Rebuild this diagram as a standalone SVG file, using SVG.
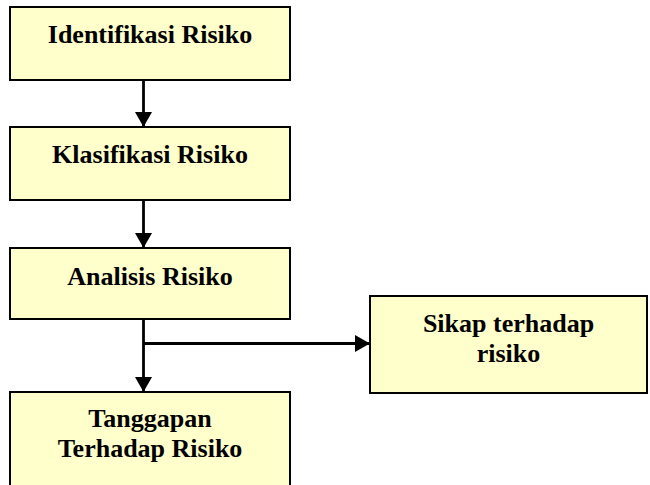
<svg xmlns="http://www.w3.org/2000/svg" width="650" height="485" viewBox="0 0 650 485">
<defs>
<style>
.box{fill:#FFFFCC;stroke:#000;stroke-width:2}
.lbl{font-family:"Liberation Serif","Times New Roman",serif;font-weight:bold;font-size:26px;fill:#000;text-anchor:middle}
.con{stroke:#000;stroke-width:2.8;fill:none}
</style>
<marker id="ah" markerUnits="userSpaceOnUse" markerWidth="16" markerHeight="17" viewBox="0 0 15 17" refX="15" refY="8.5" orient="auto">
<path d="M0,0 L15,8.5 L0,17 Z" fill="#000"/>
</marker>
</defs>
<rect width="650" height="485" fill="#fff"/>
<g id="connectors">
<line class="con" x1="143.5" y1="80" x2="143.5" y2="127" marker-end="url(#ah)"/>
<line class="con" x1="143.5" y1="200" x2="143.5" y2="248" marker-end="url(#ah)"/>
<line class="con" x1="143.5" y1="319" x2="143.5" y2="392" marker-end="url(#ah)"/>
<line class="con" x1="143.5" y1="343.5" x2="370" y2="343.5" marker-end="url(#ah)"/>
</g>
<g id="identifikasi">
<rect class="box" x="10" y="7" width="280" height="73"/>
<text class="lbl" x="150" y="43">Identifikasi Risiko</text>
</g>
<g id="klasifikasi">
<rect class="box" x="10" y="127" width="280" height="73"/>
<text class="lbl" x="150" y="163">Klasifikasi Risiko</text>
</g>
<g id="analisis">
<rect class="box" x="10" y="248" width="280" height="71"/>
<text class="lbl" x="150" y="285">Analisis Risiko</text>
</g>
<g id="sikap">
<rect class="box" x="370" y="296" width="277" height="97"/>
<text class="lbl" x="508.5" y="332">Sikap terhadap</text>
<text class="lbl" x="508.5" y="362">risiko</text>
</g>
<g id="tanggapan">
<rect class="box" x="10" y="392" width="280" height="100"/>
<text class="lbl" x="150" y="427">Tanggapan</text>
<text class="lbl" x="150" y="457">Terhadap Risiko</text>
</g>
</svg>
